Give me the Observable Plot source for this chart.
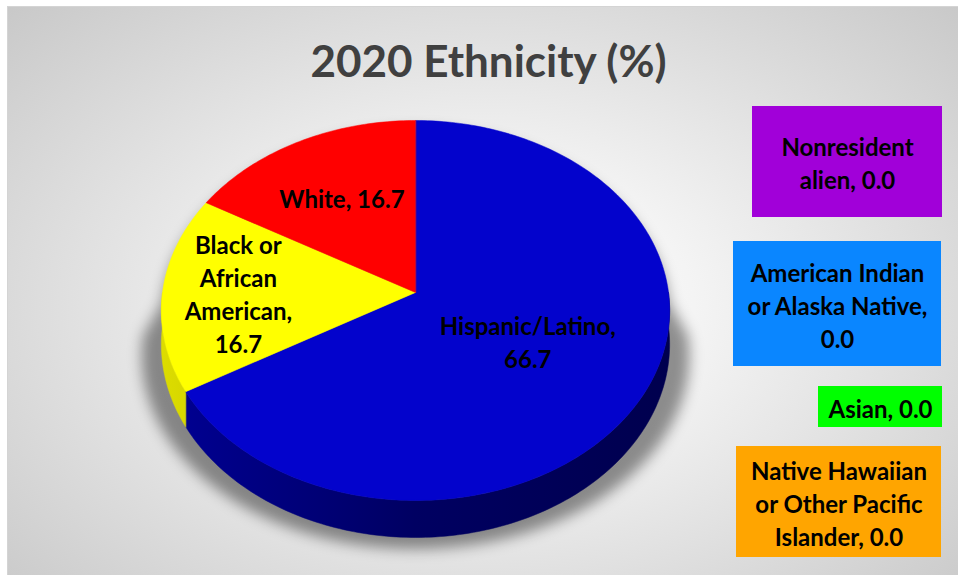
<!DOCTYPE html>
<html><head><meta charset="utf-8">
<script src="https://cdn.jsdelivr.net/npm/d3@7"></script>
<script src="https://cdn.jsdelivr.net/npm/@observablehq/plot@0.6"></script>
<style>
html,body{margin:0;padding:0;background:#fff;}
#wrap{position:relative;width:958px;height:575px;overflow:hidden;}
#bg{position:absolute;left:7px;top:6px;width:960px;height:580px;border:1px solid #d4d4d4;box-sizing:border-box;
background: radial-gradient(ellipse 72% 78% at 50% 52%, #ffffff 0%, #f4f4f4 30%, #c6c6c6 100%);}
#chart{position:absolute;left:0;top:0;}
</style></head><body>
<div id="wrap"><div id="bg"></div><div id="chart"></div></div>
<script>
// ---- data ----
const title = "2020 Ethnicity (%)";
const categories = ["Hispanic/Latino", "Black or African American", "White",
  "Nonresident alien", "American Indian or Alaska Native", "Asian",
  "Native Hawaiian or Other Pacific Islander"];
const values = [66.7, 16.7, 16.7, 0.0, 0.0, 0.0, 0.0];

// ---- styles / layout (not data) ----
const topColors = ["#0303CC", "#FFFF00", "#FF0000", "#A100D9", "#0A86FF", "#00FF00", "#FFA500"];
const sideStops = [
  ["#000094", "#000062", "#00004E"],
  ["#DCDC00", "#A8A800", "#808000"],
  ["#D00000", "#9A0000", "#700000"]
];
const wrapChars = [16, 10, 12, 11, 17, 10, 16];
const labelR = [0.5, 0.7, 0.61];
const labelDTheta = [0, 0, 0];
const boxes = [
  null, null, null,
  [752, 106, 942, 217],
  [733, 241, 941, 366],
  [818, 386, 942, 427],
  [736, 446, 941, 557]
];
const P = {cx: 415, cy: 292, rx: 253, ry: 188.3, p: 0.0947, depth: 37};

function proj(theta, r = 1, h = 0) {
  const sx = Math.sin(theta) * r, sz = Math.cos(theta) * r;
  const w = 1 + P.p * sz;
  return [P.cx + P.rx * sx / w, P.cy - P.ry * sz / w + h * P.depth * (1 - P.p) / w];
}
function wrap(text, n) {
  const words = text.split(" "), lines = [];
  let cur = "";
  for (const w of words) {
    if (!cur) cur = w;
    else if ((cur + " " + w).length <= n) cur += " " + w;
    else { lines.push(cur); cur = w; }
  }
  if (cur) lines.push(cur);
  return lines.join("\n");
}

const rows = categories.map((c, i) => ({i, category: c, value: values[i],
  label: wrap(`${c}, ${values[i].toFixed(1)}`, wrapChars[i])}));
const arcs = d3.pie().sort(null).value(d => d.value)(rows);
const deg = Math.PI / 180;

const topPts = [];
const sidePts = [];
const sideIdx = [];
const shadowPts = [];
for (const a of arcs) {
  if (a.data.value <= 0) continue;
  const i = a.data.i;
  const n = Math.max(2, Math.ceil((a.endAngle - a.startAngle) / deg));
  const [x0, y0] = proj(0, 0, 0);
  topPts.push({key: "t" + i, x: x0, y: y0, fill: topColors[i]});
  for (let k = 0; k <= n; k++) {
    const t = a.startAngle + (a.endAngle - a.startAngle) * k / n;
    const [x, y] = proj(t);
    topPts.push({key: "t" + i, x, y, fill: topColors[i]});
  }
  const s0 = Math.max(a.startAngle, Math.PI / 2), s1 = Math.min(a.endAngle, 1.5 * Math.PI);
  if (s1 > s0) {
    const m = Math.max(2, Math.ceil((s1 - s0) / deg));
    const key = "s" + i;
    sideIdx.push(i);
    for (let k = 0; k <= m; k++) { const [x, y] = proj(s0 + (s1 - s0) * k / m, 1, 0); sidePts.push({key, x, y, fill: sideStops[i][1]}); }
    for (let k = m; k >= 0; k--) { const [x, y] = proj(s0 + (s1 - s0) * k / m, 1, 1); sidePts.push({key, x, y, fill: sideStops[i][1]}); }
  }
}
// soft shadow silhouette, widening toward the bottom
for (let k = 0; k <= 90; k++) {
  const t = -Math.PI / 2 + Math.PI * k / 90;
  const [x, y] = proj(t, 1, 0);
  shadowPts.push({key: "sh", x, y: y + 10, fill: "#000000"});
}
for (let k = 0; k <= 90; k++) {
  const t = Math.PI / 2 + Math.PI * k / 90;
  const x = proj(t, 1.075, 1)[0];
  const y = proj(t, 1, 1.3)[1];
  shadowPts.push({key: "sh", x, y, fill: "#000000"});
}

const inLabels = arcs.filter(a => a.data.value > 0).map(a => {
  const i = a.data.i;
  const mid = (a.startAngle + a.endAngle) / 2 + labelDTheta[i] * deg;
  const [x, y] = proj(mid, labelR[i]);
  return {x, y, text: a.data.label};
});
const boxRows = rows.filter(d => boxes[d.i]).map(d => {
  const [x1, y1, x2, y2] = boxes[d.i];
  return {x1, y1, x2, y2, fill: topColors[d.i], text: d.label, cx: (x1 + x2) / 2, cy: (y1 + y2) / 2};
});

const font = "Lato";
const fs = 24;
const chart = Plot.plot({
  width: 958, height: 575, margin: 0,
  x: {domain: [0, 958], range: [0, 958], axis: null},
  y: {domain: [0, 575], range: [0, 575], axis: null},
  color: {type: "identity"},
  style: {background: "transparent", fontFamily: font},
  marks: [
    Plot.line(shadowPts, {x: "x", y: "y", z: "key", fill: "fill", stroke: "fill", strokeWidth: 0.5, fillOpacity: 0.42, strokeOpacity: 0.42, curve: "linear-closed"}),
    Plot.line(sidePts, {x: "x", y: "y", z: "key", fill: "fill", stroke: "fill", strokeWidth: 0.5, curve: "linear-closed"}),
    Plot.line(topPts, {x: "x", y: "y", z: "key", fill: "fill", stroke: "fill", strokeWidth: 0.5, curve: "linear-closed"}),
    Plot.text(inLabels, {x: "x", y: "y", text: "text", fill: "#000", fontSize: fs, fontWeight: "bold", fontFamily: font, lineHeight: 33 / fs, lineAnchor: "middle", textAnchor: "middle"}),
    Plot.rect(boxRows, {x1: "x1", x2: "x2", y1: "y1", y2: "y2", fill: "fill"}),
    Plot.text(boxRows, {x: "cx", y: "cy", text: "text", fill: "#000", fontSize: fs, fontWeight: "bold", fontFamily: font, lineHeight: 33 / fs, lineAnchor: "middle", textAnchor: "middle"}),
    Plot.text([title], {x: 488, y: 62, text: d => d, fill: "#404040", fontSize: 44, fontWeight: "bold", fontFamily: font, lineAnchor: "middle", textAnchor: "middle"})
  ]
});
try {
  const groups = Array.from(chart.children).filter(n => n.tagName === "g");
  const shadowG = groups[0], sideG = groups[1];
  shadowG.style.filter = "blur(7px)";
  const ns = "http://www.w3.org/2000/svg";
  const defs = document.createElementNS(ns, "defs");
  chart.insertBefore(defs, chart.firstChild);
  const xl = P.cx - P.rx, xr = P.cx + P.rx;
  const sidePaths = Array.from(sideG.querySelectorAll("path"));
  sideIdx.forEach((i, k) => {
    const g = document.createElementNS(ns, "linearGradient");
    g.setAttribute("id", `side-grad-${i}`);
    g.setAttribute("gradientUnits", "userSpaceOnUse");
    g.setAttribute("x1", xl); g.setAttribute("x2", xr); g.setAttribute("y1", 0); g.setAttribute("y2", 0);
    sideStops[i].forEach((c, j, arr) => {
      const st = document.createElementNS(ns, "stop");
      st.setAttribute("offset", j / (arr.length - 1));
      st.setAttribute("stop-color", c);
      g.appendChild(st);
    });
    defs.appendChild(g);
    if (sidePaths[k]) { sidePaths[k].setAttribute("fill", `url(#side-grad-${i})`); sidePaths[k].setAttribute("stroke", `url(#side-grad-${i})`); }
  });
} catch (e) { /* keep flat colours */ }
document.getElementById("chart").appendChild(chart);
</script>
</body></html>
